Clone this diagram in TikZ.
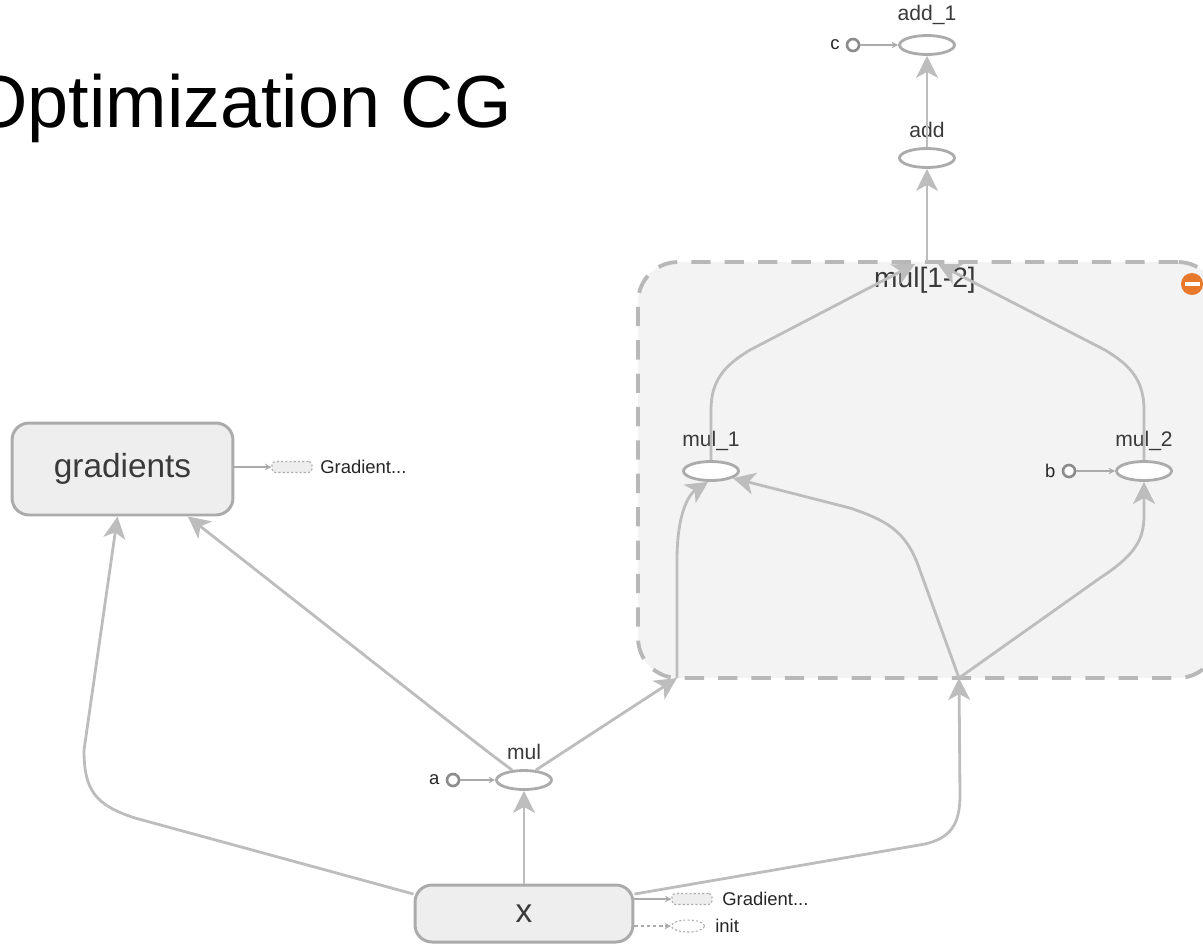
\documentclass[tikz,border=0pt]{standalone}
\usepackage{fontspec}
\setmainfont{Liberation Sans}
\usetikzlibrary{arrows.meta,shapes.geometric}

\definecolor{edgegray}{HTML}{BDBDBD}
\definecolor{nodegray}{HTML}{ABABAB}
\definecolor{constgray}{HTML}{8C8C8C}
\definecolor{boxfill}{HTML}{EEEEEE}
\definecolor{groupfill}{HTML}{F3F3F3}
\definecolor{grouprim}{HTML}{B8B8B8}
\definecolor{labeltext}{HTML}{3A3A3A}
\definecolor{minusorange}{HTML}{E8782A}

\tikzset{
  op/.style={ellipse, draw=nodegray, line width=1.6pt, fill=white,
    minimum width=1.1cm, minimum height=0.38cm, inner sep=0pt},
  opname/.style={font=\fontsize{12}{14}\selectfont, text=labeltext},
  const/.style={circle, draw=constgray, line width=1.5pt, fill=white,
    minimum size=0.24cm, inner sep=0pt},
  smalltext/.style={font=\fontsize{10.5}{12}\selectfont, text=black!85},
  bigbox/.style={rectangle, rounded corners=0.34cm, draw=nodegray,
    line width=1.7pt, fill=boxfill, inner sep=0pt,
    font=\fontsize{19}{22}\selectfont, text=labeltext},
  groupbox/.style={rectangle, rounded corners=0.8cm, draw=grouprim,
    fill=groupfill, line width=2.2pt, dash pattern=on 11pt off 8pt},
  ghost/.style={draw=nodegray, fill=boxfill, line width=0.6pt,
    dash pattern=on 1.2pt off 1.2pt, inner sep=0pt},
  flow/.style={draw=edgegray, line width=1.6pt,
    -{Stealth[length=0.44cm, width=0.44cm, inset=0.12cm]}},
  feed/.style={draw=nodegray, line width=0.8pt,
    -{Stealth[length=0.13cm, width=0.13cm]}}
}

\begin{document}
\begin{tikzpicture}[x=0.02cm, y=-0.02cm]
\useasboundingbox (0,0) rectangle (1203,944);
\clip (0,0) rectangle (1203,944);

\node[anchor=base west, inner sep=0pt, font=\fontsize{42}{50}\selectfont] (title) at (-30,127) {Optimization CG};

% the mul[1-2] group
\node[groupbox, minimum width=11.6cm, minimum height=8.32cm] (mulgroup) at (928,470) {};
\node[font=\fontsize{16}{18}\selectfont, text=labeltext] (grouplabel) at (925,280) {mul[1-2]};
\node[circle, fill=minusorange, minimum size=0.44cm, inner sep=0pt] (collapse) at (1192,284) {};
\fill[white] ([xshift=-0.15cm, yshift=-0.04cm]collapse.center) rectangle ([xshift=0.15cm, yshift=0.04cm]collapse.center);

\coordinate (topA) at (915,264);
\coordinate (topB) at (938,264);
\coordinate (grouptop) at (927,262);
\coordinate (inA) at (677,678);
\coordinate (inB) at (959,678);

% ops
\node[op, label={[opname, yshift=2pt]above:add\_1}] (add1) at (927,45) {};
\node[op, label={[opname, yshift=2pt]above:add}] (add) at (927,158) {};
\node[op, label={[opname, yshift=2pt]above:mul\_1}] (mul1) at (711,471) {};
\node[op, label={[opname, yshift=2pt]above:mul\_2}] (mul2) at (1144,471) {};
\node[op, label={[opname, yshift=2pt]above:mul}] (mul) at (524,780) {};

\node[const, label={[smalltext]left:c}] (c) at (853,45) {};
\node[const, label={[smalltext]left:b}] (b) at (1069,471) {};
\node[const, label={[smalltext]left:a}] (a) at (453,780) {};

\node[bigbox, minimum width=4.42cm, minimum height=1.84cm] (gradients) at (122.5,469) {gradients};
\node[bigbox, minimum width=4.36cm, minimum height=1.14cm] (xbox) at (524,913.5) {x};

\node[ghost, rounded corners=2pt, minimum width=0.8cm, minimum height=0.22cm] (gradghost) at (292,467) {};
\node[smalltext, anchor=west, inner sep=0pt] (gradtext) at (320,467) {Gradient...};
\node[ghost, rounded corners=2pt, minimum width=0.8cm, minimum height=0.22cm] (xghost) at (692,899) {};
\node[smalltext, anchor=west, inner sep=0pt] (xgradtext) at (722,899) {Gradient...};
\node[ghost, ellipse, fill=white, minimum width=0.66cm, minimum height=0.24cm] (initghost) at (688,926) {};
\node[smalltext, anchor=west, inner sep=0pt] (inittext) at (715,926) {init};

% edges
\draw[flow] (add.north) -- (add1.south);
\draw[flow] (grouptop) -- (add.south);
\draw[flow] (mul1.north) -- (711,410) .. controls (711,380) and (725,365) .. (750,350) -- (topA);
\draw[flow] (mul2.north) -- (1144,410) .. controls (1144,380) and (1130,365) .. (1105,350) -- (topB);
\draw[flow] (inA) -- (677,560) .. controls (677,515) and (688,495) .. (mul1.255);
\draw[flow] (inB) -- (918,565) .. controls (905,530) and (885,520) .. (850,508) -- (mul1.-18);
\draw[flow] (inB) -- (1100,578) .. controls (1135,555) and (1144,540) .. (1144,515) -- (mul2.south);
\draw[flow] (mul.40) -- (inA);
\draw[flow] (xbox.10) -- (925,844) .. controls (950,838) and (960,825) .. (960,795) -- (inB);
\draw[flow] (xbox.north) -- (mul.south);
\draw[flow] (xbox.170) -- (135,818) .. controls (95,805) and (84,790) .. (84,750) -- (gradients.-96);
\draw[flow] (mul.140) .. controls (485,750) .. (gradients.-36);

\draw[feed] (c) -- (add1.west);
\draw[feed] (b) -- (mul2.west);
\draw[feed] (a) -- (mul.west);
\draw[feed] (gradghost.west -| gradients.east) -- (gradghost.west);
\draw[feed] (xghost.west -| xbox.east) -- (xghost.west);
\draw[feed, dash pattern=on 2pt off 1.5pt] (initghost.west -| xbox.east) -- (initghost.west);

\end{tikzpicture}
\end{document}
